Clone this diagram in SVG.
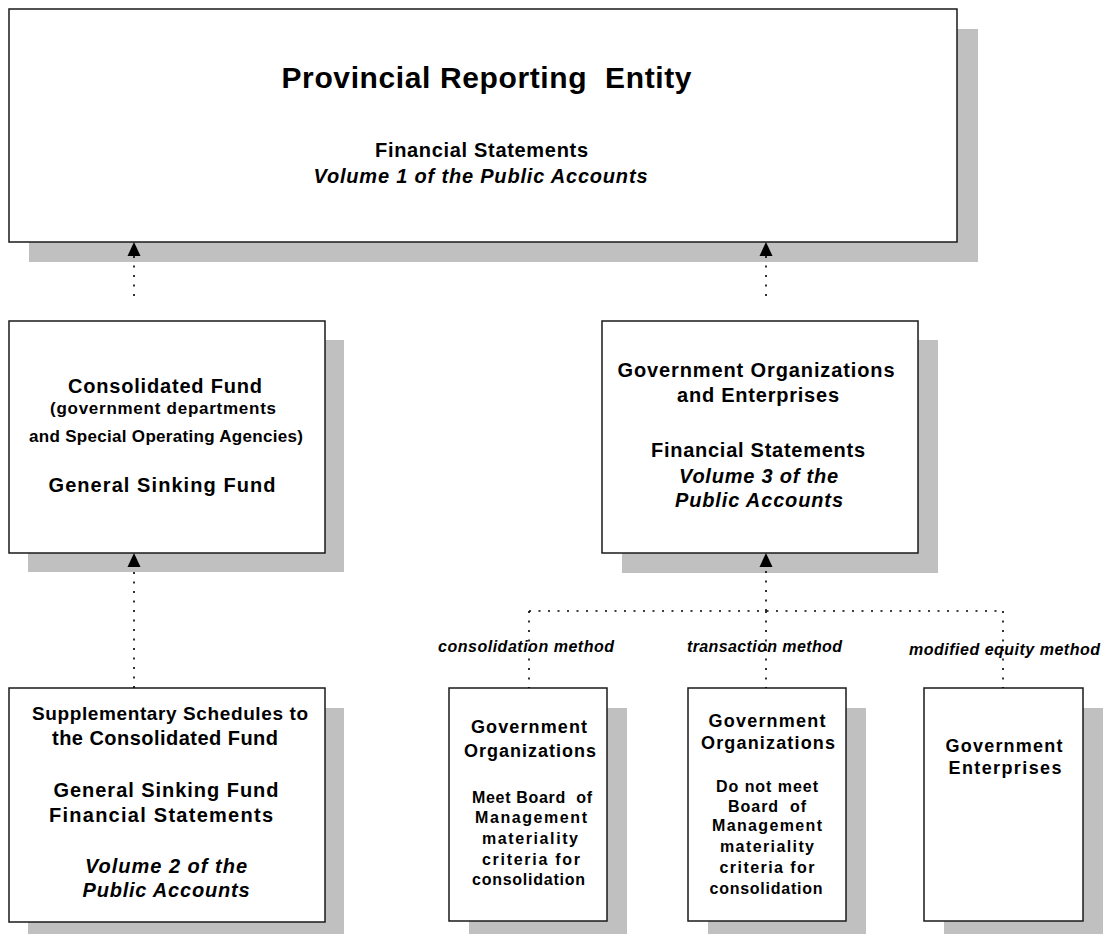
<svg xmlns="http://www.w3.org/2000/svg" width="1110" height="934" viewBox="0 0 1110 934">
<style>
.sh{fill:#c0c0c0}
.bx{fill:#fff;stroke:#1a1a1a;stroke-width:1.5}
text{font-family:"Liberation Sans",Arial,sans-serif;font-weight:bold;fill:#000;text-anchor:middle}
.i{font-style:italic}
.h{font-size:20px}
.s{font-size:17px}
.m{font-size:18px}
.b{font-size:16px}
.l{font-size:16px}
.c{fill:none;stroke:#000;stroke-width:1.6;stroke-dasharray:2 7.5}
.ah{fill:#000;stroke:none}
</style>
<rect width="1110" height="934" fill="#fff"/>

<g id="provincial">
<rect class="sh" x="29" y="29" width="949" height="233"/>
<rect class="bx" x="9" y="9" width="948" height="233"/>
<text x="486.5" y="88" style="font-size:30px" textLength="410" lengthAdjust="spacing" xml:space="preserve">Provincial Reporting  Entity</text>
<text x="481.5" y="157" style="font-size:20px" textLength="213" lengthAdjust="spacing">Financial Statements</text>
<text class="i" x="480.5" y="183" style="font-size:20px" textLength="334" lengthAdjust="spacing">Volume 1 of the Public Accounts</text>
</g>

<g id="consolidated">
<rect class="sh" x="28" y="340" width="316" height="232"/>
<rect class="bx" x="9" y="321" width="316" height="232"/>
<text class="h" x="165" y="393" textLength="194" lengthAdjust="spacing">Consolidated Fund</text>
<text class="s" x="163" y="414" textLength="226" lengthAdjust="spacing">(government departments</text>
<text class="s" x="166" y="442" textLength="274" lengthAdjust="spacing">and Special Operating Agencies)</text>
<text class="h" x="162" y="492" textLength="227" lengthAdjust="spacing">General Sinking Fund</text>
</g>

<g id="govorgs">
<rect class="sh" x="622" y="340" width="316" height="233"/>
<rect class="bx" x="602" y="321" width="316" height="232"/>
<text class="h" x="756" y="377" textLength="277" lengthAdjust="spacing">Government Organizations</text>
<text class="h" x="758" y="402" textLength="162" lengthAdjust="spacing">and Enterprises</text>
<text class="h" x="758" y="457" textLength="214" lengthAdjust="spacing">Financial Statements</text>
<text class="h i" x="758.5" y="483" textLength="159" lengthAdjust="spacing">Volume 3 of the</text>
<text class="h i" x="759" y="507" textLength="168" lengthAdjust="spacing">Public Accounts</text>
</g>

<g id="supplementary">
<rect class="sh" x="28" y="708" width="316" height="234"/>
<rect class="bx" x="9" y="688" width="316" height="234"/>
<text x="170" y="720" style="font-size:19px" textLength="276" lengthAdjust="spacing">Supplementary Schedules to</text>
<text class="h" x="165" y="745" textLength="226" lengthAdjust="spacing">the Consolidated Fund</text>
<text class="h" x="166" y="797" textLength="225" lengthAdjust="spacing">General Sinking Fund</text>
<text class="h" x="161" y="822" textLength="224" lengthAdjust="spacing">Financial Statements</text>
<text class="h i" x="166" y="873" textLength="162" lengthAdjust="spacing">Volume 2 of the</text>
<text class="h i" x="166" y="897" textLength="167" lengthAdjust="spacing">Public Accounts</text>
</g>

<g id="orgs-meet">
<rect class="sh" x="469" y="708" width="158" height="233"/>
<rect class="bx" x="449" y="688" width="158" height="233"/>
<text class="m" x="529" y="733" textLength="116" lengthAdjust="spacing">Government</text>
<text class="m" x="530" y="757" textLength="132" lengthAdjust="spacing">Organizations</text>
<text class="b" x="532" y="803" textLength="120" lengthAdjust="spacing" xml:space="preserve">Meet Board  of</text>
<text class="b" x="531" y="823" textLength="112" lengthAdjust="spacing">Management</text>
<text class="b" x="530" y="844" textLength="96" lengthAdjust="spacing">materiality</text>
<text class="b" x="531" y="865" textLength="98" lengthAdjust="spacing">criteria for</text>
<text class="b" x="528.5" y="885" textLength="113" lengthAdjust="spacing">consolidation</text>
</g>

<g id="orgs-notmeet">
<rect class="sh" x="708" y="708" width="158" height="233"/>
<rect class="bx" x="688" y="688" width="158" height="233"/>
<text class="m" x="767" y="727" textLength="117" lengthAdjust="spacing">Government</text>
<text class="m" x="768" y="749" textLength="134" lengthAdjust="spacing">Organizations</text>
<text class="b" x="767" y="792" textLength="102" lengthAdjust="spacing">Do not meet</text>
<text class="b" x="767" y="812" textLength="78" lengthAdjust="spacing" xml:space="preserve">Board  of</text>
<text class="b" x="767" y="831" textLength="110" lengthAdjust="spacing">Management</text>
<text class="b" x="767" y="852" textLength="94" lengthAdjust="spacing">materiality</text>
<text class="b" x="767" y="873" textLength="95" lengthAdjust="spacing">criteria for</text>
<text class="b" x="766" y="894" textLength="113" lengthAdjust="spacing">consolidation</text>
</g>

<g id="enterprises">
<rect class="sh" x="944" y="708" width="159" height="233"/>
<rect class="bx" x="924" y="688" width="159" height="233"/>
<text class="m" x="1004" y="752" textLength="117" lengthAdjust="spacing">Government</text>
<text class="m" x="1005" y="774" textLength="113" lengthAdjust="spacing">Enterprises</text>
</g>

<g id="connectors">
<path class="c" d="M134 296 V256"/>
<path class="c" d="M766 296 V256"/>
<path class="c" d="M134 688 V567"/>
<path class="c" d="M766 611 V567"/>
<path class="c" d="M529 611 H1003"/>
<path class="c" d="M529 611 V688"/>
<path class="c" d="M766 611 V688"/>
<path class="c" d="M1003 611 V688"/>
<polygon class="ah" points="134,242 140.5,256 127.5,256"/>
<polygon class="ah" points="766,242 772.5,256 759.5,256"/>
<polygon class="ah" points="134,553 140.5,567 127.5,567"/>
<polygon class="ah" points="766,553 772.5,567 759.5,567"/>
</g>

<g id="labels">
<text class="i l" x="526" y="652" textLength="176" lengthAdjust="spacing">consolidation method</text>
<text class="i l" x="764.5" y="652" textLength="155" lengthAdjust="spacing">transaction method</text>
<text class="i l" x="1004.5" y="655" textLength="191" lengthAdjust="spacing">modified equity method</text>
</g>
</svg>
